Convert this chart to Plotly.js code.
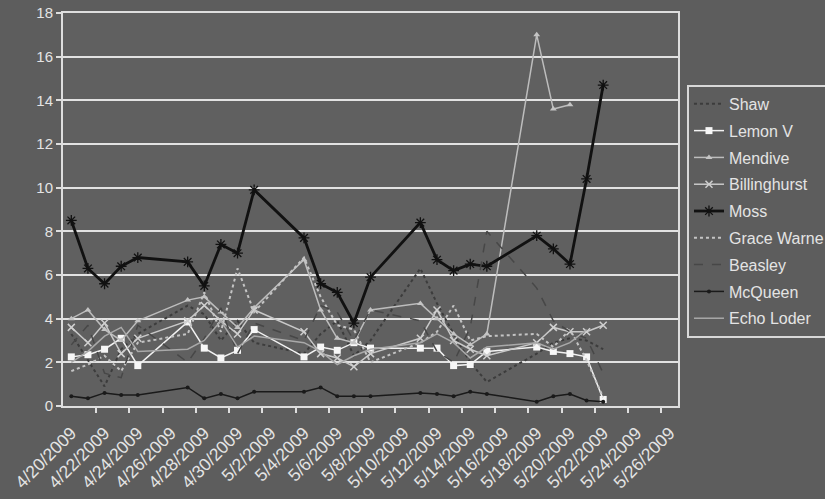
<!DOCTYPE html>
<html>
<head>
<meta charset="utf-8">
<script src="https://cdn.plot.ly/plotly-3.0.1.min.js"></script>
<style>html,body{margin:0;padding:0;background:#5d5d5d;}#chart{width:825px;height:499px;}</style>
</head>
<body>
<div id="chart"></div>
<script>
// Weekday reporting dates
const dates = ['2009-04-20','2009-04-21','2009-04-22','2009-04-23','2009-04-24',
  '2009-04-27','2009-04-28','2009-04-29','2009-04-30','2009-05-01',
  '2009-05-04','2009-05-05','2009-05-06','2009-05-07','2009-05-08',
  '2009-05-11','2009-05-12','2009-05-13','2009-05-14','2009-05-15',
  '2009-05-18','2009-05-19','2009-05-20','2009-05-21','2009-05-22'];

const shaw        = [3.3,2.1,0.9,2.6,3.3, 4.6,4.2,3.0,3.9,2.9, 2.4,3.3,3.9,2.3,3.0, 6.3,4.7,3.3,2.0,1.1, 2.4,2.9,3.1,3.0,2.6];
const lemonV      = [2.25,2.35,2.6,3.1,1.85, 3.85,2.65,2.2,2.55,3.5, 2.25,2.7,2.55,2.9,2.65, 2.65,2.65,1.85,1.9,2.5, 2.7,2.5,2.4,2.25,0.3];
const mendive     = [4.0,4.4,3.5,3.0,3.9, 4.85,5.0,4.3,3.6,4.5, 6.7,4.4,3.1,2.9,4.4, 4.7,4.0,3.3,2.8,3.3, 17.0,13.6,13.8,null,null];
const billinghurst= [3.6,2.9,3.8,2.4,3.1, 3.9,4.6,3.9,3.3,4.4, 3.4,2.4,2.2,1.8,2.4, 3.1,4.4,3.0,2.6,2.3, 2.9,3.6,3.4,3.4,3.7];
const moss        = [8.5,6.3,5.6,6.4,6.8, 6.6,5.5,7.4,7.0,9.9, 7.7,5.6,5.2,3.8,5.9, 8.4,6.7,6.2,6.5,6.4, 7.8,7.2,6.5,10.4,14.7];
const graceWarne  = [1.6,1.9,2.3,1.6,2.9, 3.3,5.2,3.4,6.3,4.3, 6.8,5.0,3.7,3.5,2.0, 2.9,3.4,4.6,3.0,3.2, 3.3,2.7,3.5,2.1,0.4];
const beasley     = [2.8,3.7,1.5,1.3,3.7, 2.0,3.1,4.5,2.4,3.8, 3.0,4.6,4.3,3.0,4.4, 3.9,2.5,2.0,3.6,8.0, 5.4,3.9,3.4,3.1,1.5];
const mcQueen     = [0.45,0.35,0.6,0.5,0.5, 0.85,0.35,0.55,0.35,0.65, 0.65,0.85,0.45,0.45,0.45, 0.6,0.55,0.45,0.65,0.55, 0.2,0.45,0.55,0.25,0.2];
const echoLoder   = [2.0,2.5,3.2,3.6,2.5, 2.6,3.0,3.9,2.7,3.2, 2.9,2.5,1.9,2.3,2.6, 2.9,3.3,2.9,2.2,2.7, 2.9,2.6,2.9,3.5,null];

const tickDates = ['2009-04-20','2009-04-22','2009-04-24','2009-04-26','2009-04-28','2009-04-30',
  '2009-05-02','2009-05-04','2009-05-06','2009-05-08','2009-05-10','2009-05-12','2009-05-14',
  '2009-05-16','2009-05-18','2009-05-20','2009-05-22','2009-05-24','2009-05-26'];
const tickLabels = ['4/20/2009','4/22/2009','4/24/2009','4/26/2009','4/28/2009','4/30/2009',
  '5/2/2009','5/4/2009','5/6/2009','5/8/2009','5/10/2009','5/12/2009','5/14/2009',
  '5/16/2009','5/18/2009','5/20/2009','5/22/2009','5/24/2009','5/26/2009'];
const boundaryTicks = ['2009-04-21 12:00','2009-04-23 12:00','2009-04-25 12:00','2009-04-27 12:00',
  '2009-04-29 12:00','2009-05-01 12:00','2009-05-03 12:00','2009-05-05 12:00','2009-05-07 12:00',
  '2009-05-09 12:00','2009-05-11 12:00','2009-05-13 12:00','2009-05-15 12:00','2009-05-17 12:00',
  '2009-05-19 12:00','2009-05-21 12:00','2009-05-23 12:00','2009-05-25 12:00'];

function tr(name, y, line, marker, i) {
  const t = {type:'scatter', mode: marker ? 'lines+markers' : 'lines', name:name, x:dates, y:y,
    line:line, legendgroup:'g'+i, connectgaps:false};
  if (marker) t.marker = marker;
  return t;
}

const traces = [
  tr('Shaw', shaw, {color:'#3c3c3c', width:2, dash:'dot'}, null, 1),
  tr('Lemon V', lemonV, {color:'#f2f2f2', width:1.5}, {symbol:'square', size:7, color:'#f7f7f7'}, 2),
  tr('Mendive', mendive, {color:'#bdbdbd', width:1.5}, {symbol:'triangle-up', size:6, color:'#c4c4c4'}, 3),
  tr('Billinghurst', billinghurst, {color:'#c9c9c9', width:1.5}, {symbol:'x-thin-open', size:7, color:'#cfcfcf', line:{color:'#cfcfcf', width:1.5}}, 4),
  tr('Moss', moss, {color:'#111111', width:2.8}, {symbol:'asterisk-open', size:9, color:'#111111', line:{color:'#111111', width:1.3}}, 5),
  tr('Grace Warne', graceWarne, {color:'#c4c4c4', width:2, dash:'dot'}, null, 6),
  tr('Beasley', beasley, {color:'#474747', width:1.5, dash:'dash'}, null, 7),
  tr('McQueen', mcQueen, {color:'#1a1a1a', width:1.5}, {symbol:'circle', size:4, color:'#1a1a1a'}, 8),
  tr('Echo Loder', echoLoder, {color:'#a9a9a9', width:1.5}, null, 9),
  {type:'scatter', mode:'markers', x:[boundaryTicks[0]], y:[null], xaxis:'x2', yaxis:'y', showlegend:false, hoverinfo:'skip'}
];

const fg = '#e4e4e4';
const layout = {
  width:825, height:499,
  margin:{l:63, r:147, t:13, b:93, autoexpand:false},
  paper_bgcolor:'#5d5d5d', plot_bgcolor:'#606060',
  font:{family:'"Liberation Sans", Arial, sans-serif', color:fg, size:13},
  showlegend:true,
  xaxis:{type:'date', range:['2009-04-19 12:00','2009-05-26 12:00'], tickvals:tickDates, ticktext:tickLabels,
    tickangle:-45, tickfont:{size:17.5, color:fg}, ticklabelstandoff:8, showgrid:false, zeroline:false,
    showline:true, linecolor:'#dedede', linewidth:2, mirror:true, ticks:''},
  xaxis2:{type:'date', overlaying:'x', anchor:'y', side:'bottom', range:['2009-04-19 12:00','2009-05-26 12:00'],
    tickvals:boundaryTicks, ticks:'outside', ticklen:6, tickwidth:2, tickcolor:'#dedede',
    showticklabels:false, showgrid:false, zeroline:false, showline:false},
  yaxis:{range:[0,18], dtick:2, tick0:0, showgrid:true, gridcolor:'#e2e2e2', gridwidth:2,
    zeroline:false, showline:true, linecolor:'#dedede', linewidth:2, mirror:true,
    ticks:'outside', ticklen:5, tickwidth:2, tickcolor:'#dedede', tickfont:{size:15, color:fg}},
  legend:{x:1.0146, y:0.817, xanchor:'left', yanchor:'top', bgcolor:'rgba(0,0,0,0)',
    bordercolor:'#d8d8d8', borderwidth:2, font:{size:16, color:fg}, tracegroupgap:3, traceorder:'grouped'}
};

Plotly.newPlot('chart', traces, layout, {staticPlot:true, displayModeBar:false});
</script>
</body>
</html>
